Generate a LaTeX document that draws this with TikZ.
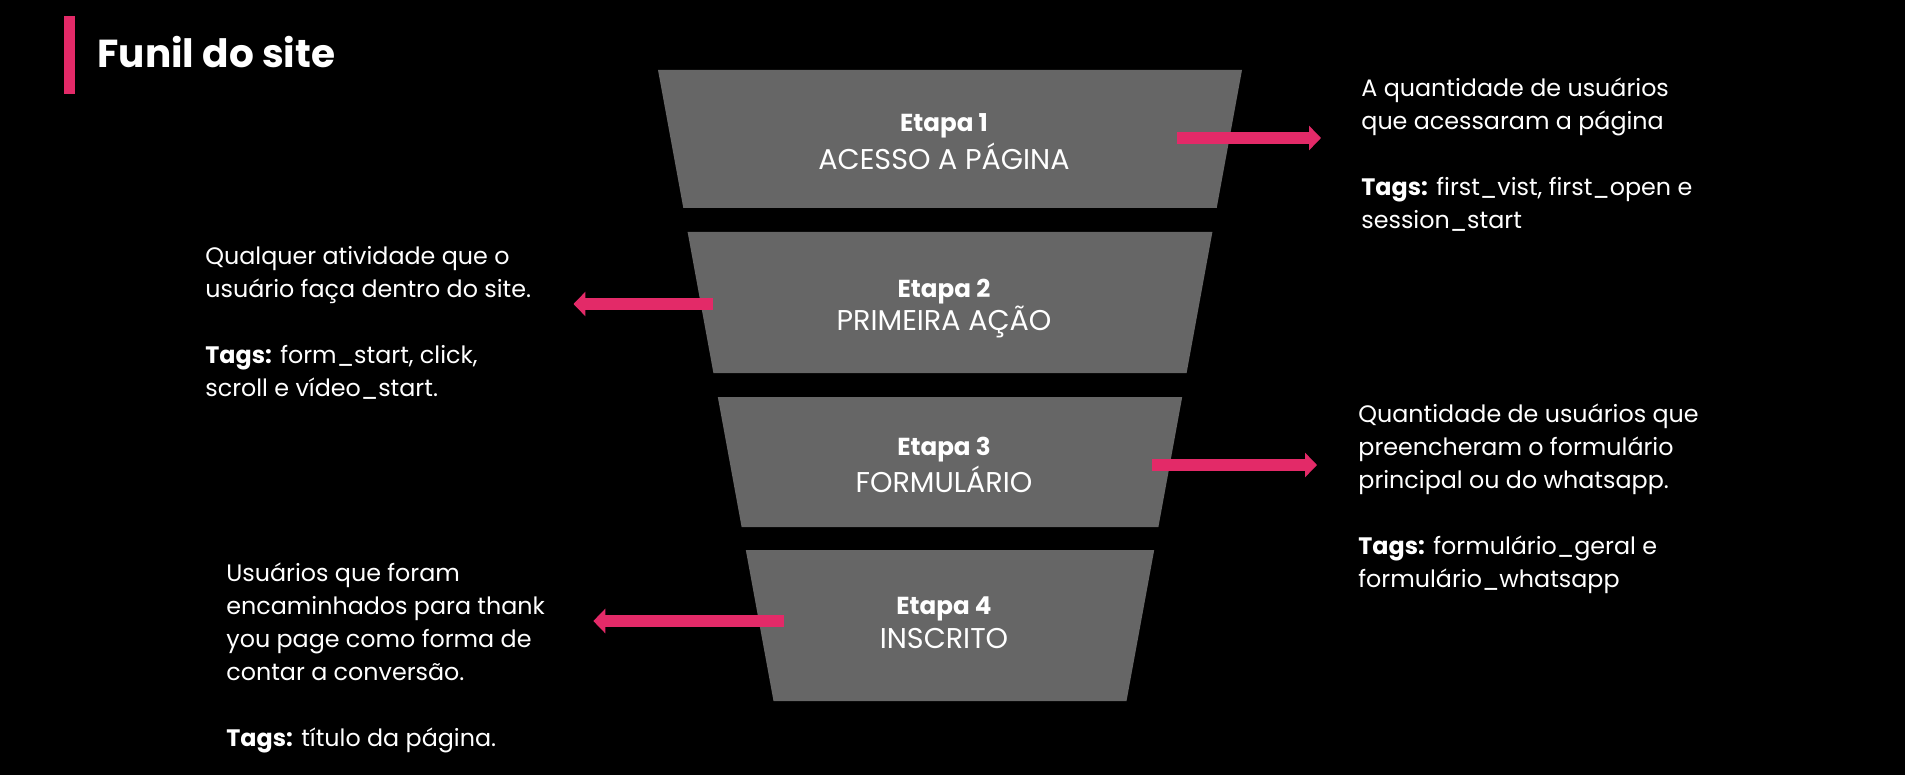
\documentclass[tikz,border=0pt]{standalone}
\usepackage{fontspec}
\setmainfont{Poppins}
\usetikzlibrary{arrows.meta}
\definecolor{funpink}{RGB}{227,42,104}
\definecolor{fungray}{RGB}{102,102,102}

\begin{document}
\begin{tikzpicture}[x=0.5pt, y=-0.5pt,
    ttl/.style={font=\fontsize{19.5}{23}\selectfont\bfseries, text=white, anchor=west, inner sep=0},
    band/.style={fill=fungray},
    etp/.style={font=\fontsize{12.3}{14}\selectfont\bfseries, text=white, inner sep=0},
    nam/.style={font=\fontsize{14.3}{16}\selectfont, text=white, inner sep=0},
    dsc/.style={font=\fontsize{11.9}{16.5}\selectfont, text=white, align=left, anchor=north west, inner sep=0},
    arr/.style={draw=funpink, line width=6pt, -{Triangle[length=6pt,width=12pt]}}]
  \fill[black] (0,0) rectangle (1905,775);
  \fill[funpink] (64,16) rectangle (75,94);
  \node[ttl] (ttl) at (97,52) {Funil do site};
  % funnel bands
  \fill[band] (658,70) -- (1242,70) -- (1216.7,208) -- (683.3,208) -- cycle;
  \fill[band] (687.6,232) -- (1212.4,232) -- (1186.6,373) -- (713.4,373) -- cycle;
  \fill[band] (717.8,397) -- (1182.2,397) -- (1158.4,527) -- (741.6,527) -- cycle;
  \fill[band] (745.8,550) -- (1154.2,550) -- (1126.5,701) -- (773.5,701) -- cycle;
  \node[etp] (etp1) at (944,125.5) {Etapa 1};
  \node[nam] (nam1) at (944,156) {ACESSO A PÁGINA};
  \node[etp] (etp2) at (944,291.5) {Etapa 2};
  \node[nam] (nam2) at (944,322) {PRIMEIRA AÇÃO};
  \node[etp] (etp3) at (944,449.5) {Etapa 3};
  \node[nam] (nam3) at (944,479) {FORMULÁRIO};
  \node[etp] (etp4) at (944,608.5) {Etapa 4};
  \node[nam] (nam4) at (944,638) {INSCRITO};
  % descriptions
  \node[dsc] (dsc1) at (1361,77) {A quantidade de usuários\\que acessaram a página\\[16.5pt]\textbf{Tags:} first\_vist, first\_open e\\session\_start};
  \node[dsc] (dsc2) at (205,246) {Qualquer atividade que o\\usuário faça dentro do site.\\[16.5pt]\textbf{Tags:} form\_start, click,\\scroll e vídeo\_start.};
  \node[dsc] (dsc3) at (1358,403) {Quantidade de usuários que\\preencheram o formulário\\principal ou do whatsapp.\\[16.5pt]\textbf{Tags:} formulário\_geral e\\formulário\_whatsapp};
  \node[dsc] (dsc4) at (226,562) {Usuários que foram\\encaminhados para thank\\you page como forma de\\contar a conversão.\\[16.5pt]\textbf{Tags:} título da página.};
  % arrows
  \coordinate (a1) at (1177,138);
  \coordinate (a2) at (713,304);
  \coordinate (a3) at (1152,465);
  \coordinate (a4) at (784,621);
  \draw[arr] (a1) -- ([xshift=-20pt]a1 -| dsc1.west);
  \draw[arr] (a2) -- ([xshift=21pt]a2 -| dsc2.east);
  \draw[arr] (a3) -- ([xshift=-20.5pt]a3 -| dsc3.west);
  \draw[arr] (a4) -- ([xshift=24pt]a4 -| dsc4.east);
\end{tikzpicture}
\end{document}
